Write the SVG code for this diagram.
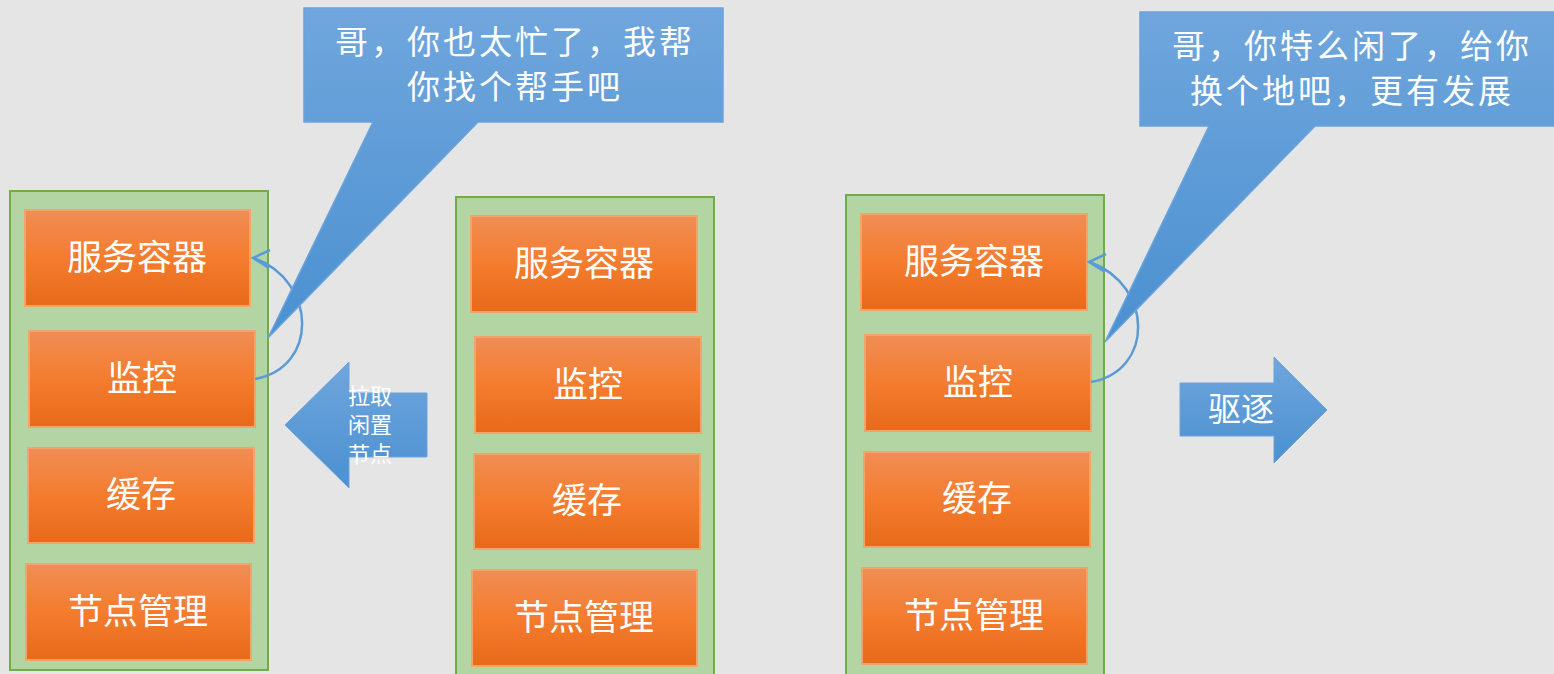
<svg xmlns="http://www.w3.org/2000/svg" width="1554" height="674" viewBox="0 0 1554 674">
<defs>
<linearGradient id="og" x1="0" y1="0" x2="0" y2="1">
<stop offset="0" stop-color="#f08d55"/><stop offset="0.5" stop-color="#f47c2e"/><stop offset="1" stop-color="#e8691a"/>
</linearGradient>
<linearGradient id="bg" x1="0" y1="0" x2="0" y2="1">
<stop offset="0" stop-color="#70a6dd"/><stop offset="1" stop-color="#4a90d0"/>
</linearGradient>
<linearGradient id="bg2" gradientUnits="userSpaceOnUse" x1="0" y1="8" x2="0" y2="342">
<stop offset="0" stop-color="#70a6dd"/><stop offset="1" stop-color="#4a90d0"/>
</linearGradient>
<style>
.cont{fill:#b3d5a3;stroke:#70ad47;stroke-width:2}
.box{fill:url(#og);stroke:#f4a36b;stroke-width:2}
.bt{font-family:"Noto Sans CJK SC",sans-serif;font-size:35px;fill:#ffffff;text-anchor:middle;dominant-baseline:central}
.ct{font-family:"Noto Sans CJK SC",sans-serif;font-size:33px;fill:#ffffff;text-anchor:middle;dominant-baseline:central}
.sp{letter-spacing:3px}
.callout{fill:url(#bg2);stroke:#6aa3db;stroke-width:1.5}
.curve{fill:none;stroke:#5b9bd5;stroke-width:2.5}
.arr{fill:url(#bg);stroke:#6aa3db;stroke-width:1}
</style>
</defs>
<rect width="1554" height="674" fill="#e5e5e5"/>

<g id="container-left">
<rect class="cont" x="10" y="191" width="258" height="479"/>
<g id="left-fwrq"><rect class="box" x="25" y="210" width="225" height="96"/><text class="bt" x="137" y="254">服务容器</text></g>
<g id="left-jk"><rect class="box" x="29" y="331" width="226" height="96"/><text class="bt" x="142" y="375">监控</text></g>
<g id="left-hc"><rect class="box" x="28" y="448" width="226" height="95"/><text class="bt" x="141" y="491">缓存</text></g>
<g id="left-jdgl"><rect class="box" x="26" y="564" width="225" height="96"/><text class="bt" x="138" y="608">节点管理</text></g>
</g>

<g id="container-mid">
<rect class="cont" x="456" y="197" width="258" height="485"/>
<g id="mid-fwrq"><rect class="box" x="471" y="216" width="226" height="96"/><text class="bt" x="584" y="260">服务容器</text></g>
<g id="mid-jk"><rect class="box" x="475" y="337" width="226" height="96"/><text class="bt" x="588" y="381">监控</text></g>
<g id="mid-hc"><rect class="box" x="474" y="454" width="226" height="95"/><text class="bt" x="587" y="497">缓存</text></g>
<g id="mid-jdgl"><rect class="box" x="472" y="570" width="225" height="96"/><text class="bt" x="584" y="614">节点管理</text></g>
</g>

<g id="container-right">
<rect class="cont" x="846" y="195" width="258" height="485"/>
<g id="right-fwrq"><rect class="box" x="861" y="214" width="226" height="96"/><text class="bt" x="974" y="258">服务容器</text></g>
<g id="right-jk"><rect class="box" x="865" y="335" width="226" height="96"/><text class="bt" x="978" y="379">监控</text></g>
<g id="right-hc"><rect class="box" x="864" y="452" width="226" height="95"/><text class="bt" x="977" y="495">缓存</text></g>
<g id="right-jdgl"><rect class="box" x="862" y="568" width="225" height="96"/><text class="bt" x="974" y="612">节点管理</text></g>
</g>

<g id="connectors">
<path class="curve" d="M255,379 C318,368 318,282 254,258"/>
<path class="curve" d="M270,250 L253,258 L269,268"/>
<path class="curve" d="M1091,382 C1154,371 1154,286 1090,262"/>
<path class="curve" d="M1106,254 L1089,262 L1105,272"/>
</g>

<g id="callout-left">
<path class="callout" d="M304,8 H723 V122 H478 L268,338 L373,122 H304 Z"/>
<text class="ct sp" x="515" y="40">哥，你也太忙了，我帮</text>
<text class="ct sp" x="515" y="85">你找个帮手吧</text>
</g>

<g id="callout-right">
<path class="callout" d="M1140,12 H1556 V126 H1315 L1105,342 L1209,126 H1140 Z"/>
<text class="ct sp" x="1352" y="44">哥，你特么闲了，给你</text>
<text class="ct sp" x="1352" y="89">换个地吧，更有发展</text>
</g>

<g id="arrow-pull">
<path class="arr" d="M285,425 L349,362 V393 H427 V457 H349 V488 Z"/>
<text font-family="Noto Sans CJK SC,sans-serif" font-size="22" fill="#ffffff">
<tspan x="348" y="404">拉取</tspan><tspan x="348" y="433">闲置</tspan><tspan x="348" y="462">节点</tspan>
</text>
</g>

<g id="arrow-evict">
<path class="arr" d="M1180,383 H1274 V357 L1327,410 L1274,463 V436 H1180 Z"/>
<text class="ct" x="1241" y="407">驱逐</text>
</g>
</svg>
